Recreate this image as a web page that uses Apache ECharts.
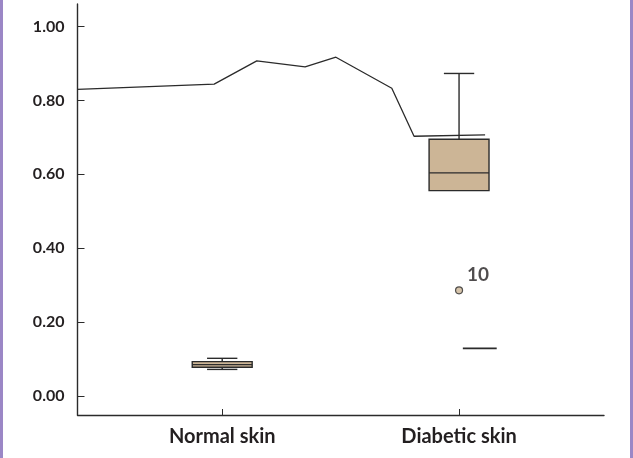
<!DOCTYPE html>
<html>
<head>
<meta charset="utf-8">
<script src="https://cdn.jsdelivr.net/npm/echarts@6/dist/echarts.min.js"></script>
<style>
  html, body { margin: 0; padding: 0; background: #fff; }
  #chart { position: absolute; left: 0; top: 0; width: 633px; height: 458px; }
  .edge { position: absolute; top: 0; width: 3px; height: 458px; background: #9b87c6; }
</style>
</head>
<body>
<div id="chart"></div>
<div class="edge" style="left:0"></div>
<div class="edge" style="left:630px"></div>
<script>
// ---- data ----
const categories = ['Normal skin', 'Diabetic skin'];
const whiskerHigh = [0.102, 0.873];
const q3Values = [0.093, 0.695];
const medianValues = [0.085, 0.604];
const q1Values = [0.078, 0.556];
const whiskerLow = [0.072, null];
const outliers = [[1, 0.286, '10']];
const strayMarks = [[1.016, 1.159, 0.129]];
const traceLine = [
  [-0.611, 0.830], [-0.034, 0.844], [0.146, 0.907], [0.350, 0.891],
  [0.480, 0.917], [0.716, 0.833], [0.810, 0.703], [1.110, 0.707]
];
const yTicks = [0, 0.2, 0.4, 0.6, 0.8, 1.0];
const xTicks = [0, 1];

const boxData = categories.map((c, i) => [i, whiskerLow[i], q1Values[i], medianValues[i], q3Values[i], whiskerHigh[i]]);

const chart = echarts.init(document.getElementById('chart'), null, { renderer: 'canvas' });
const FONT = 'Lato';
const INK = '#2b2b2b';
const TEXT = '#231f20';
const BOX_FILL = '#ccb596';

function renderBox(params, api) {
  const x = api.value(0);
  const lo = api.value(1), q1 = api.value(2), md = api.value(3), q3 = api.value(4), hi = api.value(5);
  const halfBox = 0.1265, halfCap = 0.064;
  const children = [];
  const pQ3L = api.coord([x - halfBox, q3]);
  const pQ1R = api.coord([x + halfBox, q1]);
  const lineStyle = { stroke: INK, lineWidth: 1.4 };
  if (hi != null && !isNaN(hi)) {
    const pHi = api.coord([x, hi]);
    const top = api.coord([x, q3]);
    children.push({ type: 'line', shape: { x1: pHi[0], y1: pHi[1], x2: top[0], y2: top[1] }, style: lineStyle });
    const a = api.coord([x - halfCap, hi]), b = api.coord([x + halfCap, hi]);
    children.push({ type: 'line', shape: { x1: a[0], y1: a[1], x2: b[0], y2: b[1] }, style: lineStyle });
  }
  if (lo != null && !isNaN(lo)) {
    const pLo = api.coord([x, lo]);
    const bot = api.coord([x, q1]);
    children.push({ type: 'line', shape: { x1: pLo[0], y1: pLo[1], x2: bot[0], y2: bot[1] }, style: lineStyle });
    const a = api.coord([x - halfCap, lo]), b = api.coord([x + halfCap, lo]);
    children.push({ type: 'line', shape: { x1: a[0], y1: a[1], x2: b[0], y2: b[1] }, style: lineStyle });
  }
  children.push({
    type: 'rect',
    shape: { x: pQ3L[0], y: pQ3L[1], width: pQ1R[0] - pQ3L[0], height: pQ1R[1] - pQ3L[1] },
    style: { fill: BOX_FILL, stroke: INK, lineWidth: 1.4 }
  });
  const m1 = api.coord([x - halfBox, md]), m2 = api.coord([x + halfBox, md]);
  children.push({ type: 'line', shape: { x1: m1[0], y1: m1[1], x2: m2[0], y2: m2[1] }, style: lineStyle });
  return { type: 'group', children };
}

function renderStray(params, api) {
  const a = api.coord([api.value(0), api.value(2)]);
  const b = api.coord([api.value(1), api.value(2)]);
  return { type: 'line', shape: { x1: a[0], y1: a[1], x2: b[0], y2: b[1] }, style: { stroke: INK, lineWidth: 1.6 } };
}

chart.setOption({
  animation: false,
  backgroundColor: '#ffffff',
  grid: { left: 77.5, right: 29, top: 4, bottom: 43, containLabel: false },
  xAxis: {
    type: 'value',
    min: -0.611,
    max: 1.612,
    splitLine: { show: false },
    axisLine: { show: true, onZero: false, lineStyle: { color: INK, width: 1.4 } },
    axisTick: { show: true, inside: true, length: 6, customValues: xTicks, lineStyle: { color: INK, width: 1 } },
    axisLabel: {
      customValues: xTicks,
      formatter: v => categories[Math.round(v)] || '',
      color: TEXT, fontFamily: FONT, fontSize: 20, fontWeight: 'bold', margin: 12
    }
  },
  yAxis: {
    type: 'value',
    min: -0.0514,
    max: 1.061,
    splitLine: { show: false },
    axisLine: { show: true, onZero: false, lineStyle: { color: INK, width: 1.4 } },
    axisTick: { show: true, inside: true, length: 7, customValues: yTicks, lineStyle: { color: INK, width: 1 } },
    axisLabel: {
      customValues: yTicks,
      formatter: v => v.toFixed(2),
      color: TEXT, fontFamily: FONT, fontSize: 16, fontWeight: 'bold', margin: 13
    }
  },
  series: [
    {
      type: 'line',
      data: traceLine,
      symbol: 'none',
      lineStyle: { color: INK, width: 1.3 },
      z: 3
    },
    {
      type: 'custom',
      data: boxData,
      renderItem: renderBox,
      z: 2
    },
    {
      type: 'custom',
      data: strayMarks,
      renderItem: renderStray,
      z: 2
    },
    {
      type: 'scatter',
      data: outliers.map(o => [o[0], o[1], o[2]]),
      symbol: 'circle',
      symbolSize: 7,
      itemStyle: { color: BOX_FILL, borderColor: INK, borderWidth: 1.2 },
      label: {
        show: true,
        formatter: p => p.value[2],
        position: [12, -21],
        color: TEXT, fontFamily: FONT, fontSize: 19, fontWeight: 'bold'
      },
      z: 4
    }
  ]
});
</script>
</body>
</html>
